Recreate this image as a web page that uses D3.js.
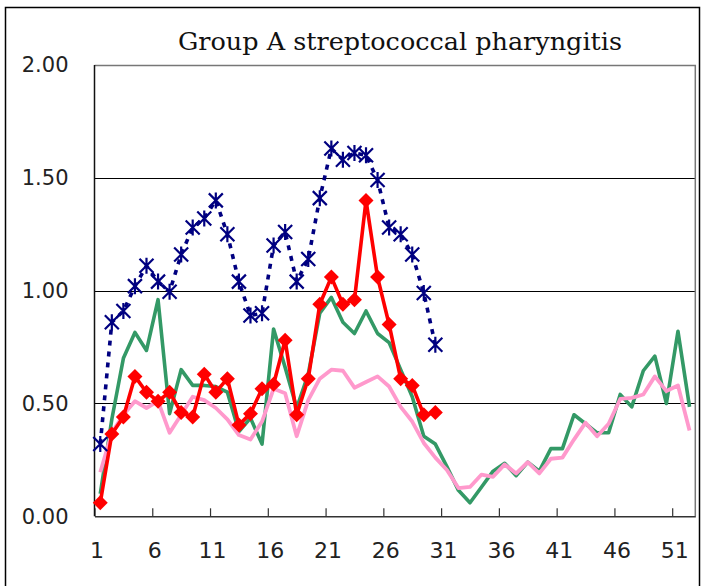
<!DOCTYPE html>
<html>
<head>
<meta charset="utf-8">
<script src="https://cdn.jsdelivr.net/npm/d3@7"></script>
<style>
  html, body { margin: 0; padding: 0; background: #fff; }
  svg { display: block; }
</style>
</head>
<body>
<svg id="chart" width="703" height="586"></svg>
<script>
// ---- data ----
const title = "Group A streptococcal pharyngitis";
const weeks = d3.range(1, 53);                       // categories: week 1..52
const xTickLabels = [1, 6, 11, 16, 21, 26, 31, 36, 41, 46, 51];
const yTickValues = [0, 0.5, 1.0, 1.5, 2.0];

const seriesBlue = [0.32, 0.86, 0.91, 1.02, 1.11, 1.04, 0.995, 1.16, 1.28, 1.32,
                    1.40, 1.25, 1.04, 0.89, 0.90, 1.20, 1.26, 1.04, 1.14, 1.41,
                    1.63, 1.58, 1.61, 1.60, 1.49, 1.28, 1.25, 1.16, 0.99, 0.76];
const seriesRed = [0.06, 0.365, 0.44, 0.62, 0.55, 0.51, 0.55, 0.46, 0.44, 0.63,
                   0.55, 0.61, 0.405, 0.455, 0.565, 0.585, 0.78, 0.45, 0.61, 0.94,
                   1.06, 0.94, 0.96, 1.40, 1.06, 0.85, 0.61, 0.58, 0.45, 0.46];
const seriesGreen = [0.10, 0.43, 0.70, 0.815, 0.735, 0.96, 0.455, 0.65, 0.58, 0.58,
                     0.575, 0.55, 0.375, 0.435, 0.32, 0.83, 0.66, 0.48, 0.63, 0.90,
                     0.97, 0.86, 0.81, 0.91, 0.81, 0.77, 0.65, 0.53, 0.355, 0.32,
                     0.22, 0.115, 0.06, 0.13, 0.20, 0.235, 0.18, 0.24, 0.20, 0.30,
                     0.30, 0.45, 0.41, 0.37, 0.37, 0.54, 0.485, 0.645, 0.71, 0.50,
                     0.82, 0.485];
const seriesPink = [0.195, 0.37, 0.45, 0.51, 0.48, 0.51, 0.37, 0.45, 0.53, 0.515,
                    0.48, 0.43, 0.36, 0.34, 0.42, 0.565, 0.545, 0.355, 0.515, 0.61,
                    0.65, 0.645, 0.57, 0.595, 0.62, 0.575, 0.485, 0.42, 0.325, 0.26,
                    0.205, 0.125, 0.13, 0.185, 0.175, 0.23, 0.19, 0.24, 0.19, 0.255,
                    0.26, 0.34, 0.415, 0.355, 0.41, 0.52, 0.525, 0.54, 0.62, 0.555,
                    0.58, 0.38];

// ---- layout ----
const plot = { left: 94.5, right: 695.3, top: 65, bottom: 516.3 };
const svg = d3.select("#chart");

// outer border
svg.append("rect").attr("x", 5.5).attr("y", 7.5).attr("width", 694).attr("height", 600)
  .attr("fill", "none").attr("stroke", "#000").attr("stroke-width", 1.5);

const x = d3.scaleBand().domain(weeks).range([plot.left, plot.right]).paddingInner(0).paddingOuter(0);
const xAxisScale = d3.scaleLinear().domain([1, 53]).range([plot.left, plot.right]);
const y = d3.scaleLinear().domain([0, 2]).range([plot.bottom, plot.top]);
const cx = w => x(w) + x.bandwidth() / 2;

// gridlines
svg.append("g").selectAll("line").data(yTickValues.filter(v => v > 0 && v < 2)).join("line")
  .attr("x1", plot.left).attr("x2", plot.right)
  .attr("y1", d => Math.round(y(d)) + 0.5).attr("y2", d => Math.round(y(d)) + 0.5)
  .attr("stroke", "#000").attr("stroke-width", 1);

// plot frame (top / right)
svg.append("path")
  .attr("d", `M${plot.left},${plot.top + 0.5}H${plot.right}V${plot.bottom}`)
  .attr("fill", "none").attr("stroke", "#777").attr("stroke-width", 1.5);

// y axis labels
const yAxis = d3.axisLeft(y).tickValues(yTickValues).tickFormat(d3.format(".2f"))
  .tickSize(0).tickPadding(26);
const gy = svg.append("g").attr("transform", `translate(${plot.left},0)`).call(yAxis);
gy.select(".domain").remove();
gy.selectAll("text").attr("font-family", "'DejaVu Sans', sans-serif")
  .attr("font-size", 21).attr("fill", "#222");

// x axis
const xAxis = d3.axisBottom(xAxisScale).tickValues(xTickLabels).tickFormat(d3.format("d"))
  .tickSizeInner(-8).tickSizeOuter(0).tickPadding(26);
const gx = svg.append("g").attr("transform", `translate(0,${plot.bottom})`).call(xAxis);
gx.select(".domain").attr("stroke", "#333").attr("stroke-width", 1.5);
gx.selectAll(".tick line").attr("stroke", "#333").attr("stroke-width", 1.2);
gx.selectAll("text").attr("font-family", "'DejaVu Sans', sans-serif")
  .attr("font-size", 22).attr("fill", "#222").attr("dx", 2);

// left axis line
svg.append("line").attr("x1", plot.left).attr("x2", plot.left)
  .attr("y1", plot.top).attr("y2", plot.bottom)
  .attr("stroke", "#111").attr("stroke-width", 1.5);

// title
svg.append("text").attr("x", 400).attr("y", 50).attr("text-anchor", "middle")
  .attr("font-family", "'DejaVu Serif', serif").attr("font-size", 24)
  .attr("textLength", 444).attr("lengthAdjust", "spacingAndGlyphs")
  .attr("fill", "#111").text(title);

const line = d3.line().x((d, i) => cx(weeks[i])).y(d => y(d));

// green
svg.append("path").datum(seriesGreen).attr("d", line)
  .attr("fill", "none").attr("stroke", "#339966").attr("stroke-width", 3.6)
  .attr("stroke-linejoin", "round");
// pink
svg.append("path").datum(seriesPink).attr("d", line)
  .attr("fill", "none").attr("stroke", "#FF99CC").attr("stroke-width", 3.8)
  .attr("stroke-linejoin", "round");
// red
svg.append("path").datum(seriesRed).attr("d", line)
  .attr("fill", "none").attr("stroke", "#FF0000").attr("stroke-width", 3.6)
  .attr("stroke-linejoin", "round");
svg.append("g").selectAll("path").data(seriesRed).join("path")
  .attr("transform", (d, i) => `translate(${cx(weeks[i])},${y(d)})`)
  .attr("d", "M0,-7.5L7.5,0L0,7.5L-7.5,0Z").attr("fill", "#FF0000");
// blue dashed
svg.append("path").datum(seriesBlue).attr("d", line)
  .attr("fill", "none").attr("stroke", "#000080").attr("stroke-width", 3.6)
  .attr("stroke-dasharray", "5,6");
const s = 7;
svg.append("g").selectAll("path").data(seriesBlue).join("path")
  .attr("transform", (d, i) => `translate(${cx(weeks[i])},${y(d)})`)
  .attr("d", `M${-s},${-s}L${s},${s}M${-s},${s}L${s},${-s}M0,${-s - 1}L0,${s + 1}`)
  .attr("fill", "none").attr("stroke", "#000080").attr("stroke-width", 2.2);
</script>
</body>
</html>
